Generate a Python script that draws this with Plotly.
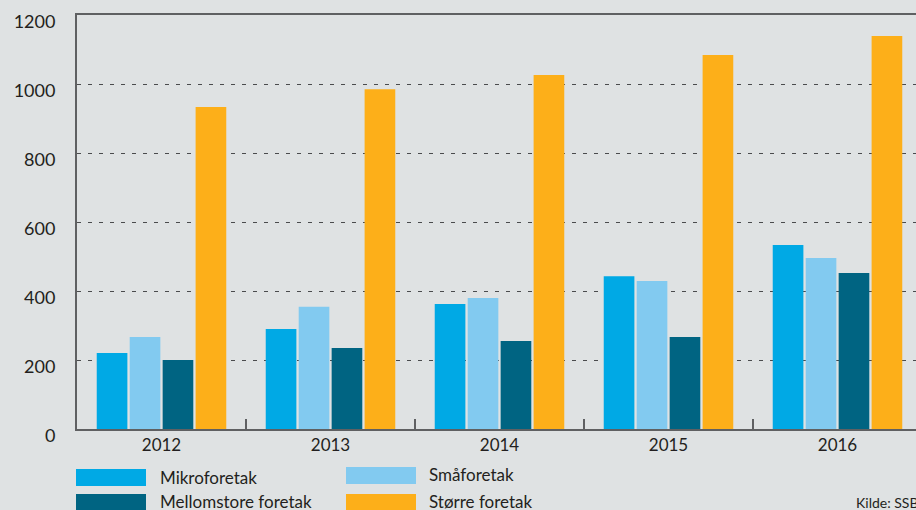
import plotly.graph_objects as go

years = ["2012", "2013", "2014", "2015", "2016"]
series_names = ["Mikroforetak", "Småforetak", "Mellomstore foretak", "Større foretak"]
mikro = [220, 290, 362, 443, 533]
smaa = [267, 354, 380, 429, 496]
mellom = [200, 235, 255, 267, 452]
storre = [933, 985, 1026, 1084, 1139]
y_ticks = [0, 200, 400, 600, 800, 1000, 1200]

values = [mikro, smaa, mellom, storre]
colors = ["#00a9e5", "#82caf0", "#006482", "#fdaf19"]

W, H = 916, 510
ML, MT, MB, MR = 77, 15, 81, 0
PW = W - ML - MR
PH = H - MT - MB

def px_x(px):
    return (px - ML) / PW

def px_y(py):
    return (H - MB - py) / PH

FONT = "Lato"
TXT = "#231f20"

fig = go.Figure()
for name, vals, col in zip(series_names, values, colors):
    fig.add_trace(go.Bar(x=years, y=vals, name=name, marker=dict(color=col, line=dict(width=0))))

fig.update_layout(
    width=W, height=H,
    margin=dict(l=ML, r=MR, t=MT, b=MB, autoexpand=False),
    paper_bgcolor="#dfe2e3",
    plot_bgcolor="#dfe2e3",
    barmode="group",
    bargap=0.22,
    bargroupgap=0.07,
    showlegend=False,
    font=dict(family=FONT, size=17, color=TXT),
)
fig.update_xaxes(
    range=[-0.5, -0.5 + PW / 169.0],
    showline=True, linecolor="#5f6062", linewidth=2, mirror=True,
    ticks="inside", ticklen=10, tickwidth=2, tickcolor="#5f6062",
    tickson="boundaries",
    showgrid=False,
    tickfont=dict(family=FONT, size=17, color=TXT),
)
fig.update_yaxes(
    range=[0, 1200],
    tickvals=y_ticks,
    showline=True, linecolor="#5f6062", linewidth=2, mirror=False,
    showgrid=True, gridcolor="#4a4b4d", gridwidth=1.3, griddash="4px,7px",
    zeroline=False,
    ticks="", ticklabelstandoff=16, ticklabelshift=7,
    ticklabeloverflow="allow",
    tickfont=dict(family=FONT, size=18, color=TXT),
)

# custom legend (wide swatches)
legend_pos = [
    (76, 469, 486, 158, 477),
    (346, 467, 484, 427, 474),
    (76, 494, 511, 158, 502),
    (346, 494, 511, 427, 502),
]
for (sx, sy0, sy1, tx, ty), name, col in zip(legend_pos, series_names, colors):
    fig.add_shape(type="rect", xref="paper", yref="paper",
                  x0=px_x(sx), x1=px_x(sx + 70), y0=px_y(sy1), y1=px_y(sy0),
                  fillcolor=col, line=dict(width=0), layer="above")
    fig.add_annotation(xref="paper", yref="paper", x=px_x(tx), y=px_y(ty),
                       text=name, showarrow=False, xanchor="left", yanchor="middle",
                       font=dict(family=FONT, size=17, color=TXT))

fig.add_annotation(xref="paper", yref="paper", x=px_x(854), y=px_y(503),
                   text="Kilde: SSB", showarrow=False, xanchor="left", yanchor="middle",
                   font=dict(family=FONT, size=14, color=TXT))

fig.write_html("out.html",
               config={"displayModeBar": False},
               post_script="document.body.style.margin='0';document.body.style.overflow='hidden';")
